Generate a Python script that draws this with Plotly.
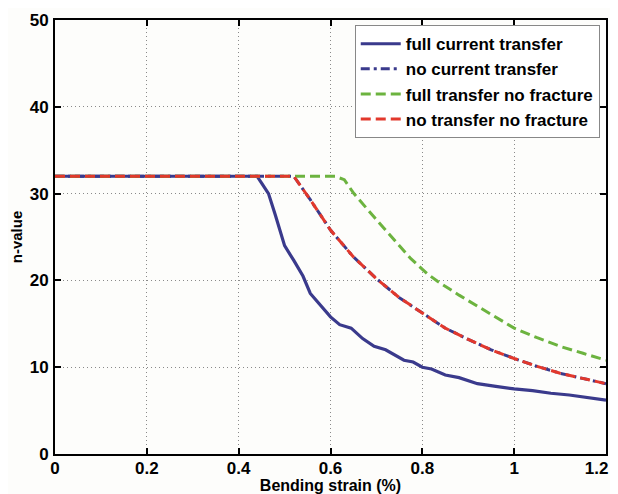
import plotly.graph_objects as go

# Data
strain_full = [0, 0.44, 0.45, 0.465, 0.48, 0.50, 0.52, 0.54, 0.556, 0.58, 0.60, 0.62, 0.645,
               0.67, 0.695, 0.72, 0.745, 0.76, 0.78, 0.80, 0.82, 0.85, 0.88, 0.92, 0.96,
               1.0, 1.04, 1.08, 1.12, 1.16, 1.2]
n_full = [32, 32, 31.2, 30.0, 27.5, 24.0, 22.3, 20.5, 18.5, 17.0, 15.8, 14.9, 14.5,
          13.3, 12.4, 12.0, 11.2, 10.8, 10.6, 10.0, 9.8, 9.1, 8.8, 8.1, 7.8,
          7.5, 7.3, 7.0, 6.8, 6.5, 6.2]

strain_none = [0, 0.52, 0.556, 0.60, 0.65, 0.70, 0.75, 0.80, 0.85, 0.90, 0.95,
               1.0, 1.05, 1.10, 1.15, 1.2]
n_none = [32, 32, 29.3, 25.8, 22.7, 20.2, 18.0, 16.2, 14.5, 13.2, 12.0,
          11.0, 10.1, 9.3, 8.7, 8.1]

strain_full_nf = [0, 0.61, 0.63, 0.651, 0.695, 0.745, 0.775, 0.81, 0.833, 0.88, 0.92,
                  0.96, 1.0, 1.05, 1.10, 1.15, 1.2]
n_full_nf = [32, 32, 31.6, 30.0, 27.3, 24.3, 22.5, 20.8, 19.9, 18.3, 17.0,
             15.7, 14.5, 13.4, 12.4, 11.6, 10.8]

strain_none_nf = strain_none
n_none_nf = n_none

NBSP = "\u00a0"
x_ticks = [0, 0.2, 0.4, 0.6, 0.8, 1.0, 1.2]
x_ticktext = ["0", "0.2", "0.4", "0.6", "0.8", "1", "1.2" + NBSP * 4]
y_ticks = [0, 10, 20, 30, 40, 50]

BLUE = "#3a3a8c"
GREEN = "#6cb33f"
RED = "#e2382c"
FONT = "Liberation Sans, Arial, Helvetica, sans-serif"

fig = go.Figure()
fig.add_trace(go.Scatter(x=strain_full, y=n_full, mode="lines", name="full current transfer",
                         line=dict(color=BLUE, width=3.2)))
fig.add_trace(go.Scatter(x=strain_none, y=n_none, mode="lines", name="no current transfer",
                         line=dict(color=BLUE, width=3, dash="9px,4px,3px,4px")))
fig.add_trace(go.Scatter(x=strain_full_nf, y=n_full_nf, mode="lines", name="full transfer no fracture",
                         line=dict(color=GREEN, width=3, dash="10px,5px")))
fig.add_trace(go.Scatter(x=strain_none_nf, y=n_none_nf, mode="lines", name="no transfer no fracture",
                         line=dict(color=RED, width=3, dash="10px,5px")))

axis_common = dict(
    showline=True, linecolor="black", linewidth=2, mirror="ticks",
    ticks="inside", ticklen=6, tickwidth=2, tickcolor="black",
    showgrid=True, gridcolor="#8a8a8a", gridwidth=1, griddash="1px,3px",
    zeroline=False, automargin=False, ticklabeloverflow="allow",
    tickfont=dict(family=FONT, size=17, color="black", weight="bold"),
)

fig.update_xaxes(range=[0, 1.2], tickvals=x_ticks, ticktext=x_ticktext, ticklabelstandoff=-2,
                 title=dict(text="Bending strain (%)",
                            font=dict(family=FONT, size=16, color="black", weight="bold")),
                 **axis_common)
fig.update_yaxes(range=[0, 50], tickvals=y_ticks, ticklabelstandoff=1,
                 title=dict(text="n-value",
                            font=dict(family=FONT, size=15, color="black", weight="bold")),
                 **axis_common)

# page body has an 8px margin, so the figure is sized to fit within the window
fig.update_layout(
    width=610, height=486,
    margin=dict(l=47, r=12, t=12, b=40),
    paper_bgcolor="#fdfdfb", plot_bgcolor="#fdfdfb",
    legend=dict(x=0.544, y=0.988, xanchor="left", yanchor="top",
                bgcolor="white", bordercolor="#888888", borderwidth=1,
                font=dict(family=FONT, size=17, color="black", weight="bold"),
                tracegroupgap=0, itemwidth=40),
    showlegend=True,
)

fig.write_html("out.html")
